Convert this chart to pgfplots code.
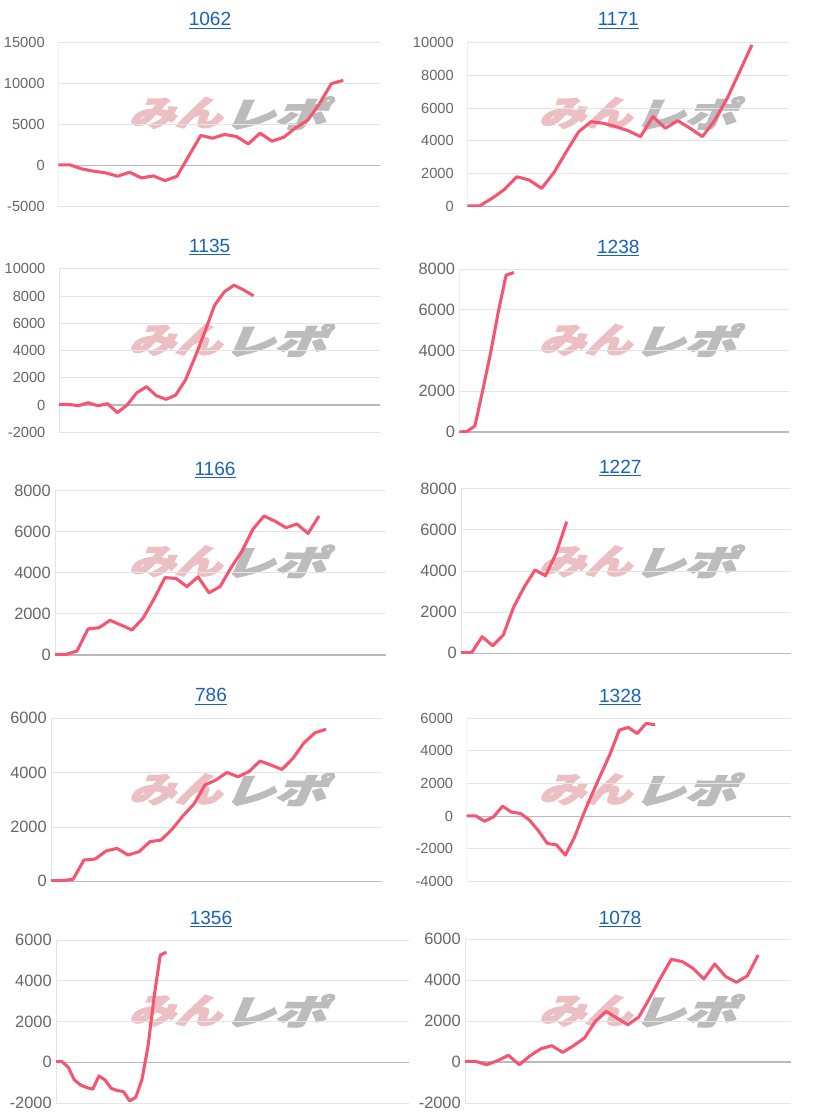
\documentclass[border=0pt]{standalone}
\usepackage{pgfplots}
\pgfplotsset{compat=1.18}
\usepackage{fontspec}
\setmainfont{Liberation Sans}
\newfontfamily\cjk[FakeBold=4,FakeSlant=0.3]{Noto Sans CJK JP}
\definecolor{linec}{RGB}{245,85,112}
\definecolor{gridc}{RGB}{228,228,228}
\definecolor{zeroc}{RGB}{185,185,185}
\definecolor{tickc}{RGB}{102,102,102}
\definecolor{titlec}{RGB}{24,98,186}
\definecolor{logop}{RGB}{236,192,194}
\definecolor{logog}{RGB}{188,188,188}

\pgfplotsset{
  panel/.style={
    anchor=south west, scale only axis,
    xmin=0,
    axis line style={draw=none},
    xtick=\empty,
    ymajorgrids,
    grid style={gridc, line width=0.75pt},
    major tick style={draw=none},
    minor tick style={draw=none},
    scaled y ticks=false,
    /pgf/number format/1000 sep={},
    /pgf/number format/assume math mode=true,
    yticklabel style={text=tickc, anchor=east, inner sep=0pt},
    extra y ticks={0},
    extra y tick labels={},
    extra y tick style={grid style={zeroc, line width=0.9pt}},
  },
  lblA/.style={yticklabel style={font=\fontsize{11}{12}\selectfont, xshift=-10pt}},
  lblB/.style={yticklabel style={font=\fontsize{12.3}{14}\selectfont, xshift=-3pt}},
  pl/.style={linec, line width=2.3pt, line join=round, mark=none},
}

\newcommand\ttl[3]{\node[anchor=base, inner sep=0pt, text=titlec, font=\fontsize{14.3}{16}\selectfont] at (#1,#2) {\underline{#3}};}
\newcommand\logo[2]{%
  \node[xscale=1.2, yscale=0.9, text=logop, font=\cjk\bfseries\fontsize{29}{29}\selectfont, inner sep=0pt] at ({#1-41.5pt},{#2}) {みん};
  \node[xscale=1.32, yscale=0.9, text=logog, font=\cjk\bfseries\fontsize{29}{29}\selectfont, inner sep=0pt] at ({#1+33pt},{#2}) {レポ};}

\begin{document}
\begin{tikzpicture}
\useasboundingbox (0,0) rectangle (613.5pt,-840pt);

% watermarks
\logo{172.5pt}{-84.75pt}
\logo{480pt}{-84.75pt}
\logo{172.5pt}{-255pt}
\logo{480pt}{-255pt}
\logo{172.5pt}{-421pt}
\logo{480pt}{-421pt}
\logo{172.5pt}{-592pt}
\logo{480pt}{-592pt}
\logo{172.5pt}{-758pt}
\logo{480pt}{-758pt}

% titles
\ttl{157.5pt}{-19.5pt}{1062}
\ttl{463.7pt}{-19.5pt}{1171}
\ttl{157.3pt}{-189.5pt}{1135}
\ttl{463.7pt}{-190pt}{1238}
\ttl{161.25pt}{-356.25pt}{1166}
\ttl{465.2pt}{-355pt}{1227}
\ttl{158.25pt}{-526.3pt}{786}
\ttl{465.2pt}{-527pt}{1328}
\ttl{158.25pt}{-693pt}{1356}
\ttl{465pt}{-693pt}{1078}

% 1062
\begin{axis}[panel, lblA, at={(43.7pt,-155pt)}, width=241.3pt, height=123.3pt,
  xmax=27.1, ymin=-5000, ymax=15000, ytick distance=5000]
\draw[gridc, line width=0.75pt] (rel axis cs:0,0) -- (rel axis cs:0,1);
\addplot[pl] coordinates {(0,80) (1,80) (2,-410) (3,-690) (4,-890) (5,-1300) (6,-810) (7,-1500) (8,-1260) (9,-1830) (10,-1300) (11,1180) (12,3660) (13,3330) (14,3780) (15,3540) (16,2640) (17,3940) (18,2970) (19,3450) (20,4600) (21,5490) (22,7520) (23,9960) (24,10370)};
\end{axis}

% 1171
\begin{axis}[panel, lblA, at={(350.5pt,-155pt)}, width=241.3pt, height=123.3pt,
  xmax=26.0, ymin=0, ymax=10000, ytick distance=2000]
\draw[gridc, line width=0.75pt] (rel axis cs:0,0) -- (rel axis cs:0,1);
\addplot[pl] coordinates {(0,50) (1,50) (2,510) (3,1050) (4,1820) (5,1620) (6,1115) (7,2070) (8,3350) (9,4560) (10,5170) (11,5070) (12,4870) (13,4620) (14,4260) (15,5480) (16,4770) (17,5230) (18,4770) (19,4260) (20,5270) (21,6590) (22,8210) (23,9840)};
\end{axis}

% 1135
\begin{axis}[panel, lblA, at={(44.25pt,-324.2pt)}, width=240.75pt, height=122.5pt,
  xmax=33.0, ymin=-2000, ymax=10000, ytick distance=2000]
\draw[gridc, line width=0.75pt] (rel axis cs:0,0) -- (rel axis cs:0,1);
\addplot[pl] coordinates {(0,50) (1,50) (2,-50) (3,170) (4,-50) (5,100) (6,-560) (7,0) (8,900) (9,1350) (10,690) (11,420) (12,730) (13,1840) (14,3550) (15,5390) (16,7340) (17,8320) (18,8810) (19,8450) (20,8030)};
\end{axis}

% 1238
\begin{axis}[panel, lblB, at={(344.5pt,-324pt)}, width=247.3pt, height=122.25pt,
  xmax=42.3, ymin=0, ymax=8000, ytick distance=2000]
\draw[gridc, line width=0.75pt] (rel axis cs:0,0) -- (rel axis cs:0,1);
\addplot[pl] coordinates {(0,0) (1,30) (2,300) (3,2050) (4,3860) (5,5900) (6,7700) (7,7830)};
\end{axis}

% 1166
\begin{axis}[panel, lblB, at={(41.25pt,-491.25pt)}, width=248pt, height=123.2pt,
  xmax=30.06, ymin=0, ymax=8000, ytick distance=2000]
\draw[gridc, line width=0.75pt] (rel axis cs:0,0) -- (rel axis cs:0,1);
\addplot[pl] coordinates {(0,30) (1,30) (2,195) (3,1270) (4,1330) (5,1690) (6,1460) (7,1220) (8,1790) (9,2730) (10,3770) (11,3730) (12,3330) (13,3810) (14,3030) (15,3330) (16,4250) (17,5060) (18,6130) (19,6770) (20,6520) (21,6200) (22,6380) (23,5920) (24,6770)};
\end{axis}

% 1227
\begin{axis}[panel, lblB, at={(345.75pt,-490pt)}, width=247.3pt, height=123.45pt,
  xmax=31.2, ymin=0, ymax=8000, ytick distance=2000]
\draw[gridc, line width=0.75pt] (rel axis cs:0,0) -- (rel axis cs:0,1);
\addplot[pl] coordinates {(0,30) (1,30) (2,810) (3,370) (4,890) (5,2270) (6,3240) (7,4050) (8,3770) (9,4860) (10,6400)};
\end{axis}

% 786
\begin{axis}[panel, lblB, at={(38.25pt,-661pt)}, width=248pt, height=122.25pt,
  xmax=30.06, ymin=0, ymax=6000, ytick distance=2000]
\draw[gridc, line width=0.75pt] (rel axis cs:0,0) -- (rel axis cs:0,1);
\addplot[pl] coordinates {(0,25) (1,25) (2,75) (3,785) (4,820) (5,1115) (6,1215) (7,970) (8,1090) (9,1460) (10,1520) (11,1915) (12,2410) (13,2850) (14,3550) (15,3730) (16,4010) (17,3850) (18,4040) (19,4430) (20,4280) (21,4120) (22,4530) (23,5100) (24,5470) (25,5600)};
\end{axis}

% 1328
\begin{axis}[panel, lblA, at={(350pt,-661pt)}, width=243pt, height=122.25pt,
  xmax=36.1, ymin=-4000, ymax=6000, ytick distance=2000]
\draw[gridc, line width=0.75pt] (rel axis cs:0,0) -- (rel axis cs:0,1);
\addplot[pl] coordinates {(0,20) (1,20) (2,-310) (3,-40) (4,610) (5,245) (6,165) (7,-245) (8,-900) (9,-1680) (10,-1760) (11,-2390) (12,-1310) (13,100) (14,1390) (15,2620) (16,3840) (17,5280) (18,5440) (19,5070) (20,5690) (21,5600)};
\end{axis}

% 1356
\begin{axis}[panel, lblB, at={(42pt,-827.25pt)}, width=264.5pt, height=122.25pt,
  xmax=57.5, ymin=-2000, ymax=6000, ytick distance=2000]
\draw[gridc, line width=0.75pt] (rel axis cs:0,0) -- (rel axis cs:0,1);
\addplot[pl] coordinates {(0,30) (1,30) (2,-245) (3,-870) (4,-1110) (5,-1240) (6,-1320) (7,-670) (8,-870) (9,-1280) (10,-1390) (11,-1440) (12,-1900) (13,-1720) (14,-870) (15,770) (16,3220) (17,5260) (18,5400)};
\end{axis}

% 1078
\begin{axis}[panel, lblB, at={(348.75pt,-827.25pt)}, width=244.3pt, height=123pt,
  xmax=30.0, ymin=-2000, ymax=6000, ytick distance=2000]
\draw[gridc, line width=0.75pt] (rel axis cs:0,0) -- (rel axis cs:0,1);
\addplot[pl] coordinates {(0,30) (1,30) (2,-130) (3,65) (4,325) (5,-130) (6,310) (7,650) (8,795) (9,470) (10,795) (11,1170) (12,1980) (13,2470) (14,2140) (15,1820) (16,2190) (17,3110) (18,4090) (19,5010) (20,4900) (21,4570) (22,4050) (23,4780) (24,4170) (25,3890) (26,4200) (27,5220)};
\end{axis}
\end{tikzpicture}
\end{document}
